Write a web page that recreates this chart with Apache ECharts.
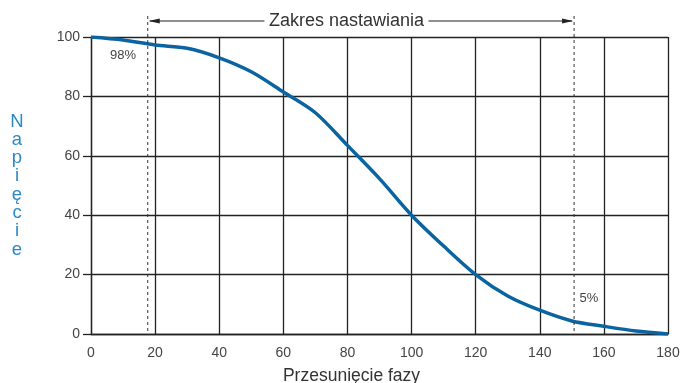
<!DOCTYPE html>
<html>
<head>
<meta charset="utf-8">
<script src="https://cdn.jsdelivr.net/npm/echarts@6/dist/echarts.min.js"></script>
<style>
  html, body { margin: 0; padding: 0; background: #fff; }
  #chart { width: 680px; height: 383px; }
</style>
</head>
<body>
<div id="chart"></div>
<script>
// dane
const phaseShift = [0, 10, 20, 30, 40, 50, 60, 70, 80, 90, 100, 110, 120, 130, 140, 150, 160, 170, 180]
const voltage = [100, 99, 97.3, 96.2, 93, 88.3, 81.5, 74.5, 63.5, 52.3, 40, 29.6, 20, 12.8, 8, 4.4, 2.6, 1, 0]
const rangeStart = 17.7
const rangeEnd = 150.7
const rangeLabel = 'Zakres nastawiania'
const startLabel = '98%'
const endLabel = '5%'

const font = 'Liberation Sans, Arial, sans-serif'
const gridColor = '#222'
const textColor = '#444'

const chart = echarts.init(document.getElementById('chart'))

chart.setOption({
  animation: false,
  grid: { left: 91, right: 12, top: 37, bottom: 49, outerBoundsMode: 'none' },
  xAxis: {
    type: 'value',
    min: 0,
    max: 180,
    interval: 20,
    name: 'Przesunięcie fazy',
    nameLocation: 'middle',
    nameGap: 33,
    nameTextStyle: { fontFamily: font, fontSize: 17.5, color: '#333', padding: [0, 56, 0, 0] },
    axisLine: { lineStyle: { color: gridColor, width: 1.3 } },
    axisTick: { show: false },
    axisLabel: { fontFamily: font, fontSize: 14, color: textColor, margin: 12 },
    splitLine: { show: true, lineStyle: { color: gridColor, width: 1.3 } }
  },
  yAxis: {
    type: 'value',
    min: 0,
    max: 100,
    interval: 20,
    name: 'Napięcie'.split('').join('\n'),
    nameLocation: 'middle',
    nameRotate: 0,
    nameGap: 74,
    nameTextStyle: { fontFamily: font, fontSize: 18.5, color: '#2b8ac6', lineHeight: 18.3, align: 'center', padding: [10, 0, 0, 0] },
    axisLine: { show: true, lineStyle: { color: gridColor, width: 1.3 } },
    axisTick: { show: true, length: 8, lineStyle: { color: gridColor, width: 1.3 } },
    axisLabel: { fontFamily: font, fontSize: 14, color: textColor, margin: 11 },
    splitLine: { show: true, lineStyle: { color: gridColor, width: 1.3 } }
  },
  series: [{
    type: 'line',
    data: phaseShift.map((x, i) => [x, voltage[i]]),
    smooth: 0.3,
    symbol: 'none',
    lineStyle: { color: '#0b64a2', width: 3.5 },
    z: 5
  }]
})

// adnotacje rysowane w pikselach wyliczonych z osi
function px(x, y) {
  return chart.convertToPixel({ gridIndex: 0 }, [x, y])
}

const [x1, yBottom] = px(rangeStart, 0)
const [x2] = px(rangeEnd, 0)
const lineTop = 16
const arrowY = 21
const [titleX] = px(79.7, 0)
const halfTitle = 82

const dashStyle = { stroke: '#333', lineWidth: 1, lineDash: [3, 3] }
const arrowStyle = { stroke: '#222', lineWidth: 1.2 }

const p98 = px(10, 93.7)
const p5 = px(155.3, 12.1)

chart.setOption({
  graphic: [
    { type: 'line', shape: { x1: x1, y1: lineTop, x2: x1, y2: yBottom }, style: dashStyle, z: 10 },
    { type: 'line', shape: { x1: x2, y1: lineTop, x2: x2, y2: yBottom }, style: dashStyle, z: 10 },
    { type: 'line', shape: { x1: x1 + 2, y1: arrowY, x2: titleX - halfTitle, y2: arrowY }, style: arrowStyle, z: 10 },
    { type: 'line', shape: { x1: titleX + halfTitle, y1: arrowY, x2: x2 - 2, y2: arrowY }, style: arrowStyle, z: 10 },
    { type: 'polygon', shape: { points: [[x1 + 1, arrowY], [x1 + 12, arrowY - 2.5], [x1 + 12, arrowY + 2.5]] }, style: { fill: '#222' }, z: 10 },
    { type: 'polygon', shape: { points: [[x2 - 1, arrowY], [x2 - 12, arrowY - 2.5], [x2 - 12, arrowY + 2.5]] }, style: { fill: '#222' }, z: 10 },
    { type: 'text', x: titleX, y: arrowY, style: { text: rangeLabel, font: '18px ' + font, fill: '#333', align: 'center', verticalAlign: 'middle' }, z: 10 },
    { type: 'text', x: p98[0], y: p98[1], style: { text: startLabel, font: '13px ' + font, fill: textColor, align: 'center', verticalAlign: 'middle' }, z: 10 },
    { type: 'text', x: p5[0], y: p5[1], style: { text: endLabel, font: '13px ' + font, fill: textColor, align: 'center', verticalAlign: 'middle' }, z: 10 }
  ]
})
</script>
</body>
</html>
